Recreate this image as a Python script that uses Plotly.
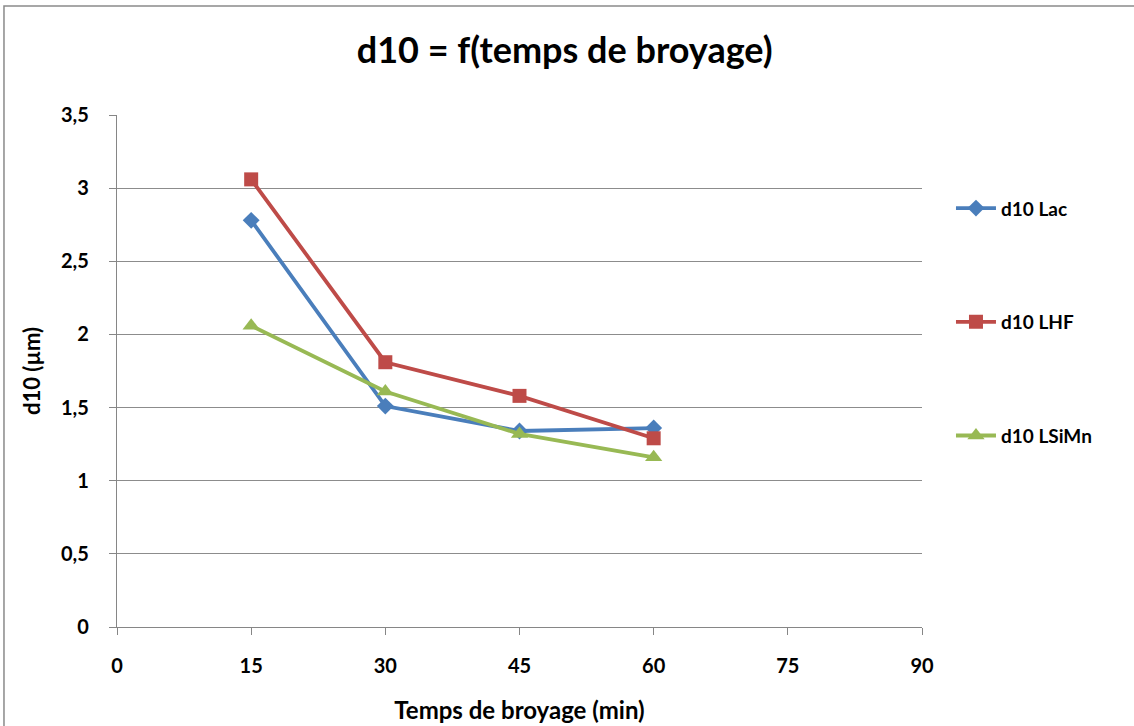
import plotly.graph_objects as go

# Grinding time (min) and d10 values (µm) for each material
temps = [15, 30, 45, 60]
d10_lac = [2.78, 1.51, 1.34, 1.36]
d10_lhf = [3.06, 1.81, 1.58, 1.29]
d10_lsimn = [2.06, 1.61, 1.32, 1.16]

x_ticks = [0, 15, 30, 45, 60, 75, 90]
y_ticks = [0, 0.5, 1, 1.5, 2, 2.5, 3, 3.5]
y_tick_text = ["0", "0,5", "1", "1,5", "2", "2,5", "3", "3,5"]

font_family = "Lato, 'Open Sans', sans-serif"

series = [
    ("d10 Lac", d10_lac, "#4A7EBB", "diamond", 13),
    ("d10 LHF", d10_lhf, "#BE4B48", "square", 14),
    ("d10 LSiMn", d10_lsimn, "#98B954", "triangle-up", 15),
]

fig = go.Figure()
for i, (name, vals, color, symbol, size) in enumerate(series):
    fig.add_trace(go.Scatter(
        x=temps, y=vals, name=f"<b>{name}</b>", mode="lines+markers",
        legendgroup=f"g{i}",
        line=dict(color=color, width=3.8),
        marker=dict(symbol=symbol, size=size, color=color),
    ))

fig.update_layout(
    width=1134, height=726,
    margin=dict(l=117, r=212, t=115, b=99),
    paper_bgcolor="white", plot_bgcolor="white",
    font=dict(family=font_family, color="#000000"),
    title=dict(text="<b>d10 = f(temps de broyage)</b>", x=0.498, xanchor="center",
               y=0.931, yanchor="middle", font=dict(size=36)),
    showlegend=True,
    legend=dict(x=1.036, xanchor="left", y=0.855, yanchor="top",
                tracegroupgap=86, font=dict(size=19), bgcolor="rgba(0,0,0,0)",
                itemwidth=40),
)

fig.update_xaxes(
    range=[0, 90], tickvals=x_ticks, ticktext=[f"<b>{v}</b>" for v in x_ticks],
    showgrid=False, showline=True, linecolor="#868686", linewidth=1.3,
    ticks="outside", ticklen=7, tickcolor="#868686", zeroline=False,
    tickfont=dict(size=20), ticklabelstandoff=14, automargin=False,
    title=dict(text="<b>Temps de broyage (min)</b>", font=dict(size=24), standoff=26),
)
fig.update_yaxes(
    range=[0, 3.5], tickvals=y_ticks, ticktext=[f"<b>{t}</b>" for t in y_tick_text],
    showgrid=True, gridcolor="#8c8c8c", gridwidth=1.2,
    showline=True, linecolor="#868686", linewidth=1.3,
    ticks="outside", ticklen=7, tickcolor="#868686", zeroline=False,
    tickfont=dict(size=20), ticklabelstandoff=16, automargin=False,
    title=dict(text="<b>d10 (µm)</b>", font=dict(size=22), standoff=14),
)

# Chart frame
fig.add_shape(type="rect", xref="paper", yref="paper",
              x0=-0.1404, x1=1.3, y0=-0.3, y1=1.2129,
              line=dict(color="#8a8a8a", width=1.5), layer="below")

fig.write_html("out.html")
